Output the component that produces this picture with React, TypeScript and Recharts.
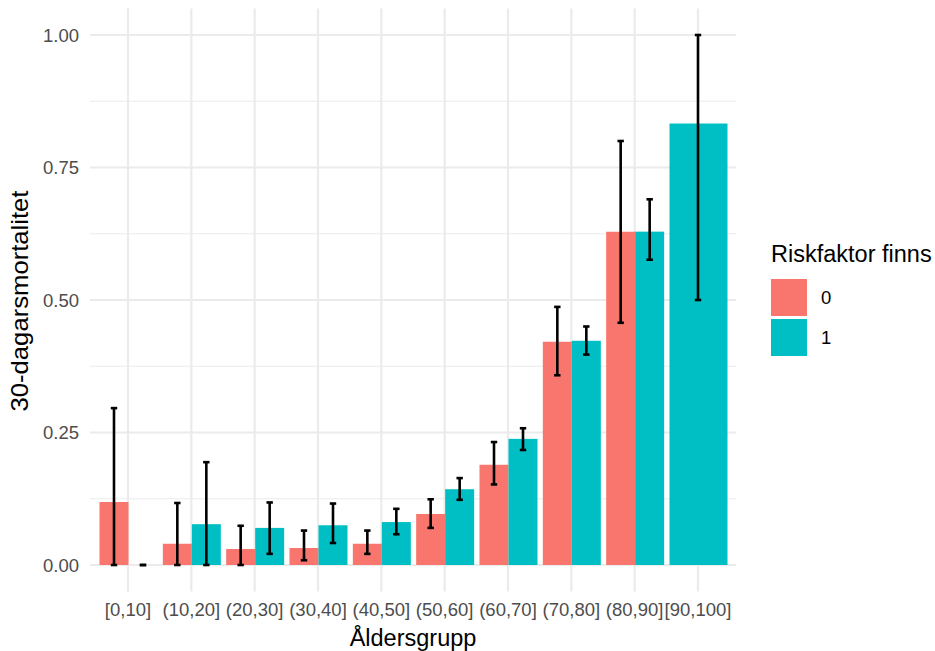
import React from 'react';
import { ComposedChart, Bar, Scatter, XAxis, YAxis, CartesianGrid, ErrorBar } from 'recharts';

const categories = ['[0,10]', '(10,20]', '(20,30]', '(30,40]', '(40,50]', '(50,60]', '(60,70]', '(70,80]', '(80,90]', '[90,100]'];
const seriesNames = ['0', '1'];
const seriesColors = ['#F8766D', '#00BFC4'];

const mort0 = [0.119, 0.040, 0.030, 0.032, 0.040, 0.096, 0.189, 0.421, 0.629, null];
const low0 = [0, 0, 0, 0.009, 0.021, 0.070, 0.152, 0.358, 0.457, null];
const high0 = [0.296, 0.117, 0.074, 0.065, 0.065, 0.124, 0.232, 0.487, 0.800, null];

const mort1 = [0, 0.077, 0.070, 0.075, 0.081, 0.143, 0.238, 0.423, 0.629, 0.833];
const low1 = [0, 0, 0.021, 0.0415, 0.058, 0.123, 0.217, 0.397, 0.576, 0.5];
const high1 = [0, 0.194, 0.118, 0.116, 0.106, 0.164, 0.258, 0.450, 0.690, 1.0];

const yTicks = [0, 0.25, 0.5, 0.75, 1];
const yMinorTicks = [0.125, 0.375, 0.625, 0.875];

const xTitle = 'Åldersgrupp';
const yTitle = '30-dagarsmortalitet';
const legendTitle = 'Riskfaktor finns';

const data = categories.map((cat, i) => {
  const solo = mort0[i] == null;
  const v0 = mort0[i];
  const v1 = mort1[i];
  return {
    cat,
    isSolo: solo,
    s0: v0,
    s1: v1,
    e0: v0 == null ? null : [v0 - (low0[i] as number), (high0[i] as number) - v0],
    e1: solo ? null : [v1 - low1[i], high1[i] - v1],
    solo: solo ? v1 : null,
    eSolo: solo ? [v1 - low1[i], high1[i] - v1] : null,
  };
});

const FONT = '"Liberation Sans", Arial, Helvetica, sans-serif';
const TICK_COLOR = '#4D4D4D';
const GRID = '#EBEBEB';
const ERR_W = 2.6;

const S1Shape = (props: any) => {
  const { x, y, width, height, payload, fill } = props;
  if (!height || height <= 0) return <g />;
  const wide = payload && payload.isSolo;
  return (
    <rect
      x={wide ? x - width : x}
      y={y}
      width={wide ? width * 2 : width}
      height={height}
      fill={fill}
    />
  );
};

const XTitle = (props: any) => {
  const vb = props.viewBox || { x: 90, y: 591.5, width: 646, height: 59.5 };
  return (
    <text x={vb.x + vb.width / 2} y={vb.y + 54} textAnchor="middle" fontSize={23.5} fill="#000" fontFamily={FONT}>
      {xTitle}
    </text>
  );
};

const YTitle = (props: any) => {
  const vb = props.viewBox || { x: 0, y: 8.5, width: 90, height: 583 };
  const cx = vb.x + 28;
  const cy = vb.y + vb.height / 2 + 1;
  return (
    <text
      x={cx}
      y={cy}
      textAnchor="middle"
      fontSize={24}
      fill="#000"
      fontFamily={FONT}
      textLength={221}
      lengthAdjust="spacingAndGlyphs"
      transform={`rotate(-90, ${cx}, ${cy})`}
    >
      {yTitle}
    </text>
  );
};

export default function App() {
  return (
    <div style={{ position: 'absolute', left: 0, top: 0, width: 935, height: 651, background: '#fff', fontFamily: FONT }}>
      <ComposedChart
        width={935}
        height={651}
        data={data}
        margin={{ top: 8.5, right: 199, bottom: 0, left: 0 }}
        barCategoryGap="5%"
        barGap={0}
      >
        <CartesianGrid horizontalValues={yMinorTicks} vertical={false} stroke={GRID} strokeWidth={1.1} syncWithTicks />
        <CartesianGrid horizontalValues={yTicks} stroke={GRID} strokeWidth={2.2} syncWithTicks />
        <XAxis
          dataKey="cat"
          interval={0}
          axisLine={false}
          tickLine={false}
          tickSize={0}
          tickMargin={11}
          height={59.5}
          padding={{ left: 6.33, right: 6.33 }}
          tick={{ fill: TICK_COLOR, fontSize: 18.5, fontFamily: FONT }}
          label={{ content: (p: any) => <XTitle {...p} /> }}
        />
        <YAxis
          type="number"
          domain={[-0.05, 1.05]}
          allowDataOverflow
          ticks={yTicks}
          tickFormatter={(v: number) => v.toFixed(2)}
          width={90}
          axisLine={false}
          tickLine={false}
          tickSize={0}
          tickMargin={11}
          tick={{ fill: TICK_COLOR, fontSize: 18.5, fontFamily: FONT }}
          label={{ content: (p: any) => <YTitle {...p} /> }}
        />
        <Bar dataKey="s0" fill={seriesColors[0]} isAnimationActive={false} name={seriesNames[0]}>
          <ErrorBar dataKey="e0" direction="y" width={3.2} stroke="#000" strokeWidth={ERR_W} />
        </Bar>
        <Bar dataKey="s1" fill={seriesColors[1]} isAnimationActive={false} name={seriesNames[1]} shape={S1Shape}>
          <ErrorBar dataKey="e1" direction="y" width={3.2} stroke="#000" strokeWidth={ERR_W} />
        </Bar>
        <Scatter dataKey="solo" fill="none" shape={() => <g />} isAnimationActive={false} legendType="none">
          <ErrorBar dataKey="eSolo" direction="y" width={3.2} stroke="#000" strokeWidth={ERR_W} />
        </Scatter>
      </ComposedChart>
      <svg width={935} height={651} style={{ position: 'absolute', left: 0, top: 0, pointerEvents: 'none' }}>
        <text x={771} y={261.7} fontSize={23.5} fill="#000" fontFamily={FONT}>{legendTitle}</text>
        {seriesNames.map((name, i) => (
          <g key={name}>
            <rect x={771} y={279 + i * 40} width={36} height={37} fill={seriesColors[i]} />
            <text x={821} y={279 + i * 40 + 18.5} dy="0.355em" fontSize={18.5} fill="#000" fontFamily={FONT}>{name}</text>
          </g>
        ))}
      </svg>
    </div>
  );
}
